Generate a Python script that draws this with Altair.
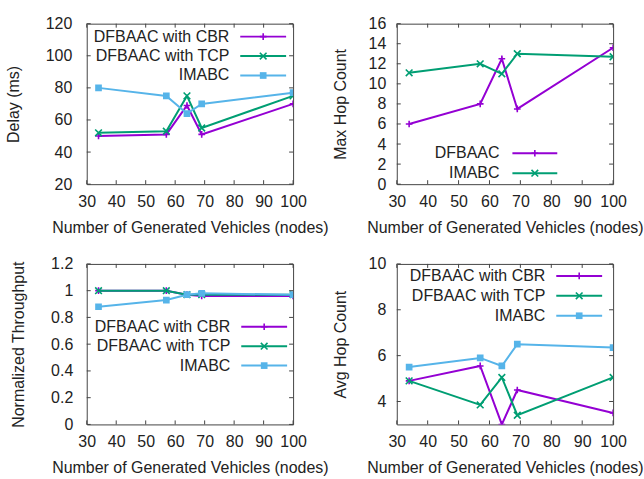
import altair as alt
import pandas as pd

FONT = "Liberation Sans"
X_VALUES = [34, 57, 64, 69, 100]

# Delay (ms)
delay_cbr = [50, 51, 69, 51, 70]
delay_tcp = [52, 53, 75, 55, 75]
delay_imabc = [80, 75, 64, 70, 77]

# Max hop count
maxhop_dfbaac = [6, 8, 12.5, 7.5, 13.6]
maxhop_imabc = [11.1, 12, 11, 13, 12.7]

# Normalized throughput
thr_cbr = [1.0, 1.0, 0.97, 0.96, 0.96]
thr_tcp = [1.0, 1.0, 0.97, 0.97, 0.97]
thr_imabc = [0.88, 0.93, 0.97, 0.98, 0.97]

# Avg hop count
avg_cbr = [4.9, 5.55, 3.0, 4.5, 3.5]
avg_tcp = [4.9, 3.85, 5.05, 3.4, 5.05]
avg_imabc = [5.5, 5.9, 5.55, 6.5, 6.35]

X_TICKS = [30, 40, 50, 60, 70, 80, 90, 100]
X_TITLE = "Number of Generated Vehicles (nodes)"

PURPLE = "#9400d3"
GREEN = "#009e73"
BLUE = "#56b4e9"

PLUS = "M-1,0L1,0M0,-1L0,1"
XSHAPE = "M-1,-1L1,1M-1,1L1,-1"

STYLE = {
    "plus": dict(color=PURPLE, shape=PLUS),
    "x": dict(color=GREEN, shape=XSHAPE),
    "sq": dict(color=BLUE, shape="square"),
}


def series_layers(name, values, style):
    df = pd.DataFrame({"x": X_VALUES, "y": values})
    st = STYLE[style]
    line = alt.Chart(df).mark_line(color=st["color"], strokeWidth=2, clip=True).encode(
        x=alt.X("x:Q"), y=alt.Y("y:Q")
    )
    if style == "sq":
        pts = alt.Chart(df).mark_point(shape="square", filled=True, color=st["color"], size=45, opacity=1, clip=True)
    else:
        pts = alt.Chart(df).mark_point(shape=st["shape"], filled=False, color=st["color"], size=45,
                                       strokeWidth=1.6, opacity=1, clip=True)
    pts = pts.encode(x="x:Q", y="y:Q")
    return [line, pts]


def legend_layers(entries, tx, lx1, lx2, y0, dy):
    layers = []
    for i, (label, style) in enumerate(entries):
        st = STYLE[style]
        y = y0 + i * dy
        one = alt.Data(values=[{"k": 1}])
        layers.append(alt.Chart(one).mark_text(align="right", baseline="middle", font=FONT,
                                               fontSize=16, color="#222").encode(
            x=alt.value(tx), y=alt.value(y), text=alt.value(label)))
        layers.append(alt.Chart(one).mark_rule(color=st["color"], strokeWidth=2).encode(
            x=alt.value(lx1), x2=alt.value(lx2), y=alt.value(y)))
        if style == "sq":
            pm = alt.Chart(one).mark_point(shape="square", filled=True, color=st["color"], size=45, opacity=1)
        else:
            pm = alt.Chart(one).mark_point(shape=st["shape"], filled=False, color=st["color"], size=45,
                                           strokeWidth=1.6, opacity=1)
        layers.append(pm.encode(x=alt.value((lx1 + lx2) / 2), y=alt.value(y)))
    return layers


def tick_layers(y_ticks, w, h, L=4):
    xt = pd.DataFrame({"x": X_TICKS})
    yt = pd.DataFrame({"y": y_ticks})
    c = "#444"
    return [
        alt.Chart(xt).mark_rule(color=c).encode(x="x:Q", y=alt.value(h), y2=alt.value(h - L)),
        alt.Chart(xt).mark_rule(color=c).encode(x="x:Q", y=alt.value(0), y2=alt.value(L)),
        alt.Chart(yt).mark_rule(color=c).encode(y="y:Q", x=alt.value(0), x2=alt.value(L)),
        alt.Chart(yt).mark_rule(color=c).encode(y="y:Q", x=alt.value(w), x2=alt.value(w - L)),
    ]


def panel(series, legend, ydomain, yticks, ylabels, ytitle, w, h, lpad, tpad, fmt="~f"):
    layers = []
    for name, vals, style in series:
        layers += series_layers(name, vals, style)
    layers += tick_layers(yticks, w, h)
    layers += legend
    base = alt.layer(*layers).encode(
        x=alt.X("x:Q", scale=alt.Scale(domain=[30, 100], nice=False),
                axis=alt.Axis(values=X_TICKS, title=X_TITLE, format="d", labelOverlap=False,
                              labelFlush=False)),
        y=alt.Y("y:Q", scale=alt.Scale(domain=ydomain, nice=False, zero=False),
                axis=alt.Axis(values=ylabels, title=ytitle, format=fmt, labelOverlap=False,
                              labelFlush=False, labelPadding=lpad, titlePadding=tpad)),
    ).properties(width=w, height=h)
    return base


WL, WR, H = 207, 217, 161

p1 = panel(
    [("DFBAAC with CBR", delay_cbr, "plus"), ("DFBAAC with TCP", delay_tcp, "x"), ("IMABC", delay_imabc, "sq")],
    legend_layers([("DFBAAC with CBR", "plus"), ("DFBAAC with TCP", "x"), ("IMABC", "sq")], 143, 154, 200, 13, 19.5),
    [20, 120], [20, 40, 60, 80, 100, 120], [20, 40, 60, 80, 100, 120], "Delay (ms)", WL, H, 15, 24)

p2 = panel(
    [("DFBAAC", maxhop_dfbaac, "plus"), ("IMABC", maxhop_imabc, "x")],
    legend_layers([("DFBAAC", "plus"), ("IMABC", "x")], 103, 116, 161, 130, 20),
    [0, 16], list(range(0, 17, 2)), list(range(0, 17, 2)), "Max Hop Count", WR, H, 11, 20)

p3 = panel(
    [("DFBAAC with CBR", thr_cbr, "plus"), ("DFBAAC with TCP", thr_tcp, "x"), ("IMABC", thr_imabc, "sq")],
    legend_layers([("DFBAAC with CBR", "plus"), ("DFBAAC with TCP", "x"), ("IMABC", "sq")], 144, 155, 201, 63, 19.5),
    [0, 1.2], [0, 0.2, 0.4, 0.6, 0.8, 1.0, 1.2], [0, 0.2, 0.4, 0.6, 0.8, 1.0, 1.2], "Normalized Throughput", WL, H, 14, 24)

p4 = panel(
    [("DFBAAC with CBR", avg_cbr, "plus"), ("DFBAAC with TCP", avg_tcp, "x"), ("IMABC", avg_imabc, "sq")],
    legend_layers([("DFBAAC with CBR", "plus"), ("DFBAAC with TCP", "x"), ("IMABC", "sq")], 149, 160, 206, 12, 20),
    [3, 10], [4, 6, 8, 10], [4, 6, 8, 10], "Avg Hop Count", WR, H, 11, 20)

chart = alt.vconcat(
    alt.hconcat(p1, p2, spacing=2),
    alt.hconcat(p3, p4, spacing=2),
    spacing=19,
).properties(
    padding={"left": 4, "top": 14, "right": 0, "bottom": 0},
    background="white",
).configure_view(
    stroke="#444", strokeWidth=1
).configure_axis(
    labelFont=FONT, titleFont=FONT, labelFontSize=16, titleFontSize=16,
    titleFontWeight="normal", labelColor="#222", titleColor="#222",
    domain=False, ticks=False, grid=False,
).configure_axisX(
    labelPadding=9, titlePadding=10
)

chart.save("out.html", embed_options={"renderer": "svg", "actions": False})
